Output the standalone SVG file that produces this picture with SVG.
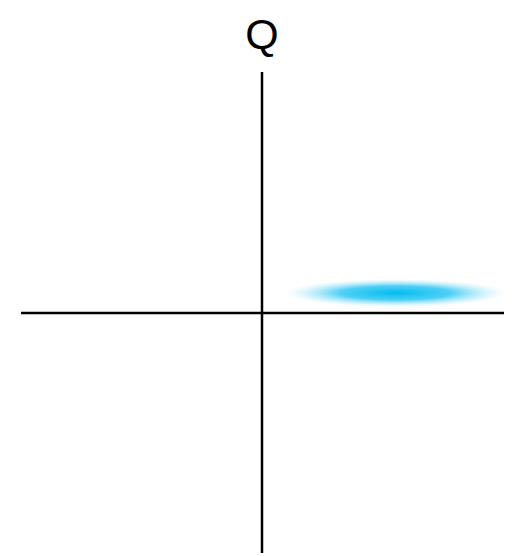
<svg xmlns="http://www.w3.org/2000/svg" width="515" height="556" viewBox="0 0 515 556">
<style>
.axis{stroke:#000;stroke-width:2.5;fill:none}
.lbl{font-family:"Liberation Sans",Arial,sans-serif;font-size:43px;fill:#000}
</style>
<defs>
<radialGradient id="glow" cx="0.5" cy="0.5" r="0.5">
<stop offset="0" stop-color="#00bcf2" stop-opacity="1"/>
<stop offset="0.5" stop-color="#22c4f3" stop-opacity="0.8"/>
<stop offset="1" stop-color="#9fe3f9" stop-opacity="0"/>
</radialGradient>
</defs>
<rect width="515" height="556" fill="#fff"/>
<g id="blob"><ellipse cx="396" cy="293" rx="110" ry="14" fill="url(#glow)"/></g>
<g id="axes">
<line class="axis" x1="21" y1="313" x2="504" y2="313"/>
<line class="axis" x1="262" y1="72" x2="262" y2="553"/>
</g>
<g id="label"><text class="lbl" x="262" y="49" text-anchor="middle">Q</text></g>
</svg>
